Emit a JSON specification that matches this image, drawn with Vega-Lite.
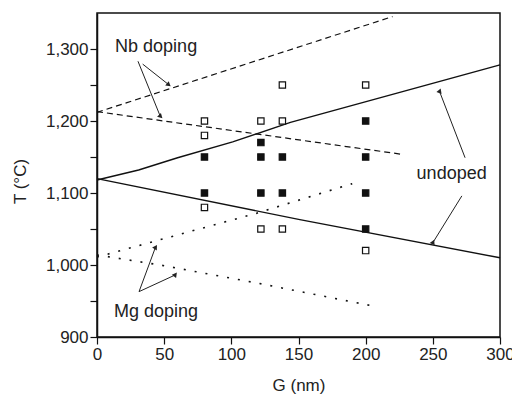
{
  "$schema": "https://vega.github.io/schema/vega-lite/v6.json",
  "width": 403,
  "height": 324,
  "autosize": {"type": "none"},
  "padding": {"left": 97, "top": 13, "right": 12, "bottom": 57},
  "background": "white",
  "config": {
    "view": {"stroke": "#111", "strokeWidth": 1.5},
    "font": "Liberation Sans",
    "axis": {
      "domainColor": "#111", "domainWidth": 1.5, "tickColor": "#111", "tickWidth": 1.2, "tickSize": 7,
      "grid": false, "labelFont": "Liberation Sans", "labelFontSize": 17, "labelColor": "#222",
      "titleFont": "Liberation Sans", "titleFontSize": 17, "titleFontWeight": "normal", "titleColor": "#222",
      "labelFlush": false, "labelOverlap": false, "labelPadding": 2
    }
  },
  "datasets": {
    "points": [
      {"G": 80, "T": 1200, "type": "open"},
      {"G": 80, "T": 1180, "type": "open"},
      {"G": 80, "T": 1150, "type": "filled"},
      {"G": 80, "T": 1100, "type": "filled"},
      {"G": 80, "T": 1080, "type": "open"},
      {"G": 122, "T": 1200, "type": "open"},
      {"G": 122, "T": 1170, "type": "filled"},
      {"G": 122, "T": 1150, "type": "filled"},
      {"G": 122, "T": 1100, "type": "filled"},
      {"G": 122, "T": 1050, "type": "open"},
      {"G": 138, "T": 1250, "type": "open"},
      {"G": 138, "T": 1200, "type": "open"},
      {"G": 138, "T": 1150, "type": "filled"},
      {"G": 138, "T": 1100, "type": "filled"},
      {"G": 138, "T": 1050, "type": "open"},
      {"G": 200, "T": 1250, "type": "open"},
      {"G": 200, "T": 1200, "type": "filled"},
      {"G": 200, "T": 1150, "type": "filled"},
      {"G": 200, "T": 1100, "type": "filled"},
      {"G": 200, "T": 1050, "type": "filled"},
      {"G": 200, "T": 1020, "type": "open"}
    ],
    "lines": [
      {"series": "Nb_up", "G": 0, "T": 1212},
      {"series": "Nb_up", "G": 220, "T": 1345},
      {"series": "Nb_low", "G": 0, "T": 1213},
      {"series": "Nb_low", "G": 226, "T": 1154},
      {"series": "Ud_up", "G": 0, "T": 1118},
      {"series": "Ud_up", "G": 31, "T": 1132},
      {"series": "Ud_up", "G": 60, "T": 1149},
      {"series": "Ud_up", "G": 101, "T": 1171},
      {"series": "Ud_up", "G": 144, "T": 1198},
      {"series": "Ud_up", "G": 300, "T": 1278},
      {"series": "Ud_low", "G": 0, "T": 1120},
      {"series": "Ud_low", "G": 151, "T": 1063},
      {"series": "Ud_low", "G": 300, "T": 1010},
      {"series": "Mg_up", "G": 0, "T": 1011},
      {"series": "Mg_up", "G": 119, "T": 1072},
      {"series": "Mg_up", "G": 190, "T": 1113},
      {"series": "Mg_low", "G": 0, "T": 1014},
      {"series": "Mg_low", "G": 47, "T": 1000},
      {"series": "Mg_low", "G": 119, "T": 975},
      {"series": "Mg_low", "G": 203, "T": 944}
    ],
    "arrows": [
      {"id": "Nb1", "G": 34, "T": 1279, "G2": 53, "T2": 1251},
      {"id": "Nb2", "G": 30.5, "T": 1283, "G2": 47, "T2": 1207},
      {"id": "Ud1", "G": 274, "T": 1149, "G2": 255, "T2": 1241},
      {"id": "Ud2", "G": 271.6, "T": 1096, "G2": 250, "T2": 1031},
      {"id": "Mg1", "G": 31.3, "T": 963, "G2": 43.4, "T2": 1024},
      {"id": "Mg2", "G": 31.3, "T": 963, "G2": 58, "T2": 986}
    ],
    "labels": [
      {"text": "Nb doping", "G": 44, "T": 1303},
      {"text": "undoped", "G": 264, "T": 1126},
      {"text": "Mg doping", "G": 44, "T": 935}
    ]
  },
  "layer": [
    {
      "data": {"name": "lines"},
      "transform": [{"filter": "datum.series === 'Nb_up' || datum.series === 'Nb_low'"}],
      "mark": {"type": "line", "color": "#111", "strokeWidth": 1.2, "strokeDash": [6, 4]},
      "encoding": {
        "x": {
          "field": "G", "type": "quantitative", "title": "G (nm)",
          "scale": {"domain": [0, 300], "nice": false, "zero": false},
          "axis": {
            "values": [0, 25, 50, 75, 100, 125, 150, 175, 200, 225, 250, 275, 300],
            "labelExpr": "datum.value % 50 === 0 ? datum.label : ''",
            "titleY": 48, "titleBaseline": "middle"
          }
        },
        "y": {
          "field": "T", "type": "quantitative", "title": "T (°C)",
          "scale": {"domain": [900, 1350], "nice": false, "zero": false},
          "axis": {
            "values": [900, 925, 950, 975, 1000, 1025, 1050, 1075, 1100, 1125, 1150, 1175, 1200, 1225, 1250, 1275, 1300, 1325],
            "labelExpr": "datum.value % 100 === 0 ? format(datum.value, ',') : ''",
            "titleX": -77, "titleY": 168, "titleBaseline": "middle"
          }
        },
        "detail": {"field": "series", "type": "nominal"}
      }
    },
    {
      "data": {"name": "lines"},
      "transform": [{"filter": "datum.series === 'Ud_up' || datum.series === 'Ud_low'"}],
      "mark": {"type": "line", "color": "#111", "strokeWidth": 1.4},
      "encoding": {
        "x": {"field": "G", "type": "quantitative"},
        "y": {"field": "T", "type": "quantitative"},
        "detail": {"field": "series", "type": "nominal"}
      }
    },
    {
      "data": {"name": "lines"},
      "transform": [{"filter": "datum.series === 'Mg_up' || datum.series === 'Mg_low'"}],
      "mark": {"type": "line", "color": "#111", "strokeWidth": 1.6, "strokeDash": [2, 9]},
      "encoding": {
        "x": {"field": "G", "type": "quantitative"},
        "y": {"field": "T", "type": "quantitative"},
        "detail": {"field": "series", "type": "nominal"}
      }
    },
    {
      "data": {"name": "points"},
      "mark": {"type": "point", "shape": "square", "filled": false, "stroke": "#111", "strokeWidth": 1.2, "opacity": 1, "size": 40},
      "encoding": {
        "x": {"field": "G", "type": "quantitative"},
        "y": {"field": "T", "type": "quantitative"},
        "fill": {"field": "type", "type": "nominal", "scale": {"domain": ["filled", "open"], "range": ["#111", "white"]}, "legend": null}
      }
    },
    {
      "data": {"name": "arrows"},
      "mark": {"type": "rule", "color": "#222", "strokeWidth": 1},
      "encoding": {
        "x": {"field": "G", "type": "quantitative"},
        "y": {"field": "T", "type": "quantitative"},
        "x2": {"field": "G2"},
        "y2": {"field": "T2"}
      }
    },
    {
      "data": {"name": "arrows"},
      "mark": {"type": "point", "shape": "triangle", "filled": true, "color": "#222", "size": 30, "opacity": 1},
      "encoding": {
        "x": {"field": "G2", "type": "quantitative"},
        "y": {"field": "T2", "type": "quantitative"},
        "angle": {"field": "id", "type": "nominal", "scale": {"domain": ["Nb1", "Nb2", "Ud1", "Ud2", "Mg1", "Mg2"], "range": [129, 158, 339, 212, 20, 65]}, "legend": null}
      }
    },
    {
      "data": {"name": "labels"},
      "mark": {"type": "text", "font": "Liberation Sans", "fontSize": 18, "color": "#222", "align": "center", "baseline": "middle"},
      "encoding": {
        "x": {"field": "G", "type": "quantitative"},
        "y": {"field": "T", "type": "quantitative"},
        "text": {"field": "text", "type": "nominal"}
      }
    }
  ]
}
